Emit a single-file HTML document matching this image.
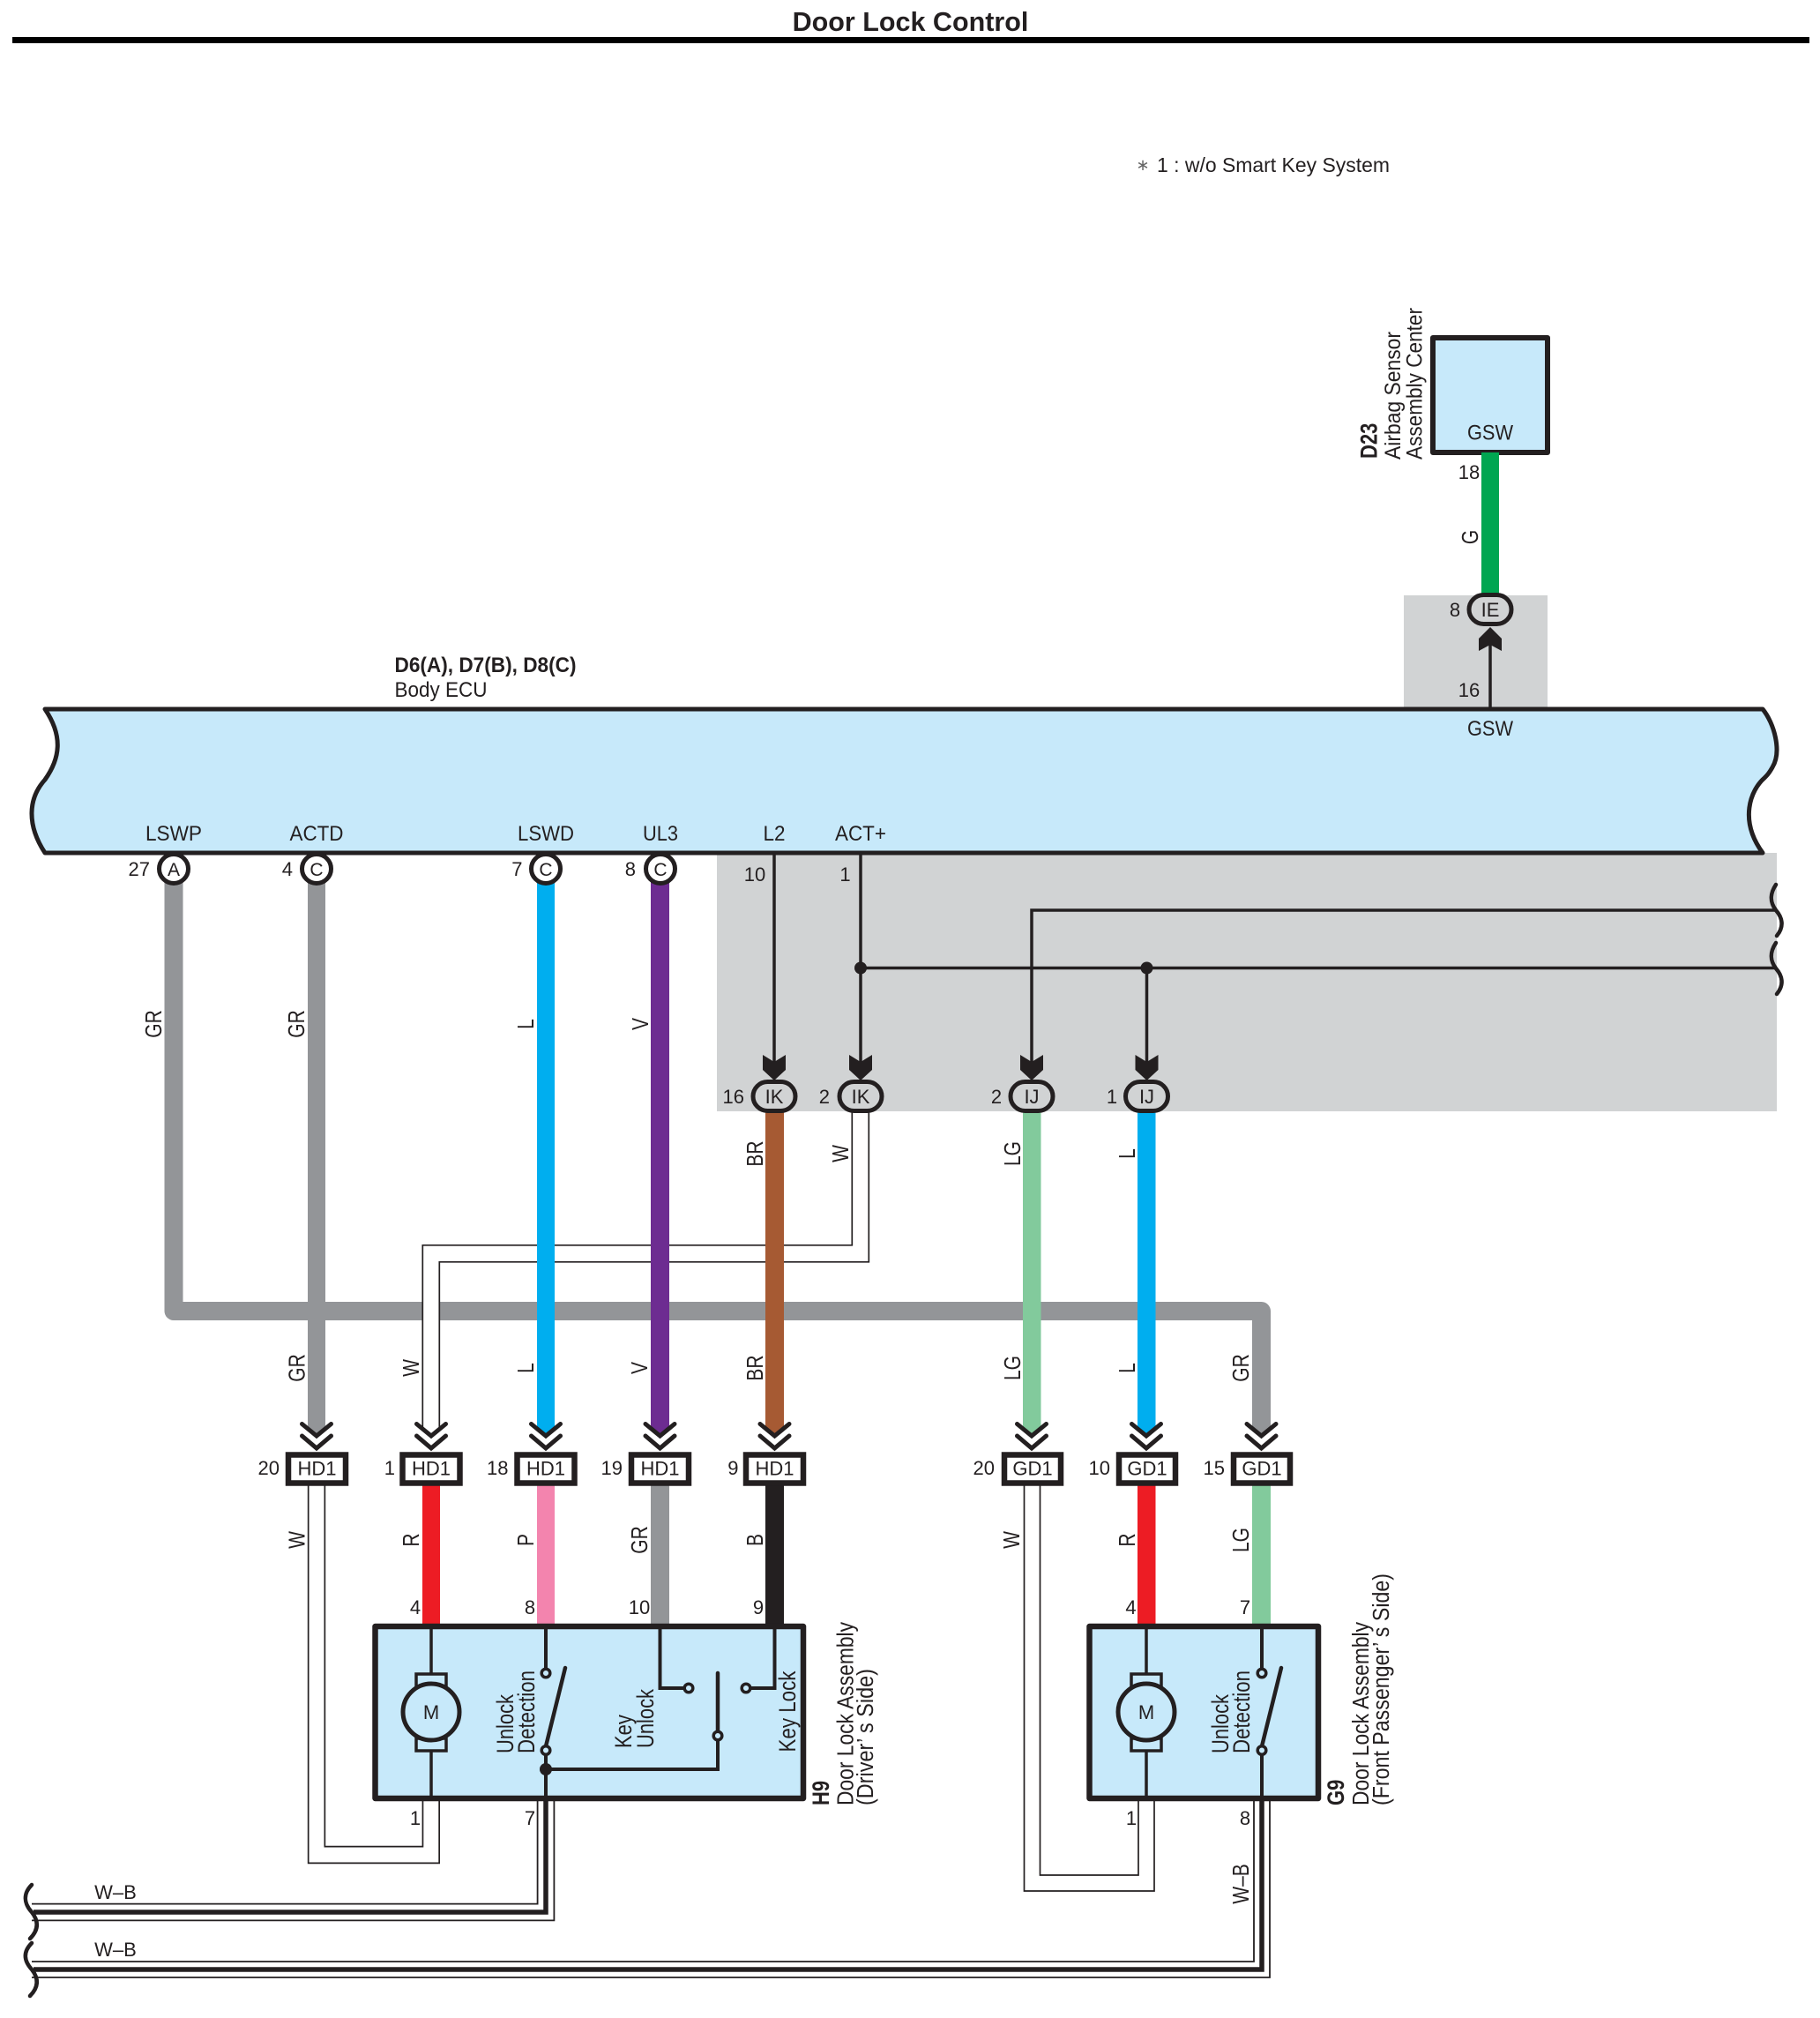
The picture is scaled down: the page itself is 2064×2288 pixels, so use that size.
<!DOCTYPE html>
<html><head><meta charset="utf-8"><title>Door Lock Control</title>
<style>
html,body{margin:0;padding:0;background:#fff}
svg{display:block}
text{font-family:"Liberation Sans",sans-serif;fill:#231f20;font-size:22px}
.m{text-anchor:middle}
.e{text-anchor:end}
.b{font-weight:bold}
.ln{fill:none;stroke:#231f20;stroke-width:3.5}
.th{fill:none;stroke:#231f20;stroke-width:4.5;stroke-linecap:round}
.t{fill:#c7e9fa;stroke:#231f20;stroke-width:3.5}
.box{fill:#fff;stroke:#231f20;stroke-width:6.5}
.pill{fill:#d1d3d4;stroke:#231f20;stroke-width:5}
.c{fill:#fff;stroke:#231f20;stroke-width:5}
.chev{fill:none;stroke:#231f20;stroke-width:5;stroke-linecap:round;stroke-linejoin:miter}
.a{fill:#231f20}
.s{font-size:24px;text-anchor:middle}
.w{font-size:21px;text-anchor:middle}
</style></head><body>
<svg width="2064" height="2288" viewBox="0 0 2064 2288" xmlns="http://www.w3.org/2000/svg">
<rect width="2064" height="2288" fill="#fff"/>
<text x="1032.500" y="35" class="m b" style="font-size:30.5px">Door Lock Control</text>
<rect x="14" y="42" width="2038" height="7" fill="#000"/>
<text x="1296" y="193" class="m" style="font-size:18px;fill:#666">∗</text>
<text x="1312" y="195" textLength="264" lengthAdjust="spacingAndGlyphs" style="font-size:23.5px">1 : w/o Smart Key System</text>

<!-- gray regions -->
<rect x="1592" y="675" width="163" height="130" fill="#d1d3d4"/>
<rect x="813" y="967" width="1202" height="293" fill="#d1d3d4"/>

<!-- Airbag -->
<rect x="1625" y="383" width="130" height="130" fill="#c7e9fa" stroke="#231f20" stroke-width="6" stroke-linejoin="round"/>
<text x="1690" y="498.500" class="s" textLength="52" lengthAdjust="spacingAndGlyphs">GSW</text>
<text transform="translate(1561.7,520) rotate(-90) scale(1,1.2)" class="b">D23</text>
<text transform="translate(1588,521) rotate(-90) scale(1,1.15)" textLength="145" lengthAdjust="spacingAndGlyphs">Airbag Sensor</text>
<text transform="translate(1612.500,521) rotate(-90) scale(1,1.15)" textLength="172" lengthAdjust="spacingAndGlyphs">Assembly Center</text>
<rect x="1680" y="513" width="20" height="170" fill="#00a651"/>
<text x="1666" y="543" class="m">18</text>
<text transform="translate(1676,609) rotate(-90) scale(1,1.25)" class="w">G</text>
<path class="ln" d="M1690 804V725"/>
<path class="a" d="M1690 711L1703 724V738L1690 731L1677 738V724Z"/>
<rect x="1666" y="674.500" width="48" height="33" rx="16.500" class="pill"/>
<text x="1690" y="699" class="m">IE</text>
<text x="1650" y="699" class="m">8</text>
<text x="1666" y="790" class="m">16</text>

<!-- ECU labels -->
<text x="447.500" y="762" class="b" textLength="206" lengthAdjust="spacingAndGlyphs" style="font-size:24px">D6(A), D7(B), D8(C)</text>
<text x="447.500" y="790" textLength="105" lengthAdjust="spacingAndGlyphs" style="font-size:24px">Body ECU</text>

<!-- ECU -->
<path d="M51 804H1999C2012 820 2021 852 2010 870C2006 877 2004 879 2001 882C1985 896 1972 930 1999 967H51C30 935 32 905 51 884C68 860 72 835 51 804Z" fill="#c7e9fa" stroke="#231f20" stroke-width="5" stroke-linejoin="round"/>
<text x="197" y="953" class="s" textLength="64" lengthAdjust="spacingAndGlyphs">LSWP</text>
<text x="359" y="953" class="s" textLength="61" lengthAdjust="spacingAndGlyphs">ACTD</text>
<text x="619" y="953" class="s" textLength="64" lengthAdjust="spacingAndGlyphs">LSWD</text>
<text x="749" y="953" class="s" textLength="40" lengthAdjust="spacingAndGlyphs">UL3</text>
<text x="878" y="953" class="s" textLength="25" lengthAdjust="spacingAndGlyphs">L2</text>
<text x="976" y="953" class="s" textLength="58" lengthAdjust="spacingAndGlyphs">ACT+</text>
<text x="1690" y="834" class="s" textLength="52" lengthAdjust="spacingAndGlyphs">GSW</text>

<!-- gray bus -->
<path d="M197 990V1486.500H1430.500V1617" fill="none" stroke="#939598" stroke-width="21" stroke-linejoin="round"/>
<polygon points="1420,1617 1430.500,1627 1441,1617" fill="#939598"/>

<!-- W double from IK to HD1 -->
<path d="M975.800 1260V1421.300H488.800V1620" fill="none" stroke="#231f20" stroke-width="20.700"/>
<path d="M975.800 1259V1421.300H488.800V1621" fill="none" stroke="#fff" stroke-width="17.300"/>

<!-- upper coloured wires -->
<polygon points="349,990 369,990 369,1617 359,1627 349,1617" fill="#939598"/>
<polygon points="609,990 629,990 629,1617 619,1627 609,1617" fill="#00aeef"/>
<polygon points="738,990 759,990 759,1617 748.500,1627 738,1617" fill="#6d2c91"/>
<polygon points="868,1258 889,1258 889,1617 878.500,1627 868,1617" fill="#a65a33"/>
<polygon points="1160,1258 1180.500,1258 1180.500,1617 1170,1627 1160,1617" fill="#82ca9c"/>
<polygon points="1290,1258 1310.500,1258 1310.500,1617 1300,1627 1290,1617" fill="#00aeef"/>

<!-- ECU pins -->
<circle cx="197" cy="985" r="16.500" class="c"/><text x="197" y="993" class="m" style="font-size:21px">A</text>
<circle cx="359" cy="985" r="16.500" class="c"/><text x="359" y="993" class="m" style="font-size:21px">C</text>
<circle cx="619" cy="985" r="16.500" class="c"/><text x="619" y="993" class="m" style="font-size:21px">C</text>
<circle cx="749" cy="985" r="16.500" class="c"/><text x="749" y="993" class="m" style="font-size:21px">C</text>
<text x="170" y="993" class="e">27</text>
<text x="332" y="993" class="e">4</text>
<text x="592.500" y="993" class="e">7</text>
<text x="721" y="993" class="e">8</text>
<text x="856" y="999" class="m">10</text>
<text x="958.500" y="999" class="m">1</text>

<!-- thin lines in gray region -->
<path class="ln" d="M878 967V1210"/>
<path class="ln" d="M976 967V1210"/>
<path class="ln" d="M976 1097.500H2014"/>
<path class="ln" d="M1170 1210V1032H2014"/>
<path class="ln" d="M1300.500 1097.500V1210"/>
<circle cx="976" cy="1097.500" r="7" class="a"/>
<circle cx="1300.500" cy="1097.500" r="7" class="a"/>
<path class="th" d="M2014 1003C2006 1015 2008 1024 2014 1032C2021 1040 2024 1050 2015 1061"/>
<path class="th" d="M2014 1069C2006 1081 2008 1090 2014 1098C2021 1106 2024 1116 2015 1127"/>

<path class="a" d="M878 1225L891 1213V1196L878 1204L865 1196V1213Z"/>
<path class="a" d="M976 1225L989 1213V1196L976 1204L963 1196V1213Z"/>
<path class="a" d="M1170 1225L1183 1213V1196L1170 1204L1157 1196V1213Z"/>
<path class="a" d="M1300.500 1225L1313.500 1213V1196L1300.500 1204L1287.500 1196V1213Z"/>
<rect x="854" y="1226.500" width="48" height="33" rx="16.500" class="pill"/><text x="878" y="1251" class="m">IK</text>
<rect x="952" y="1226.500" width="48" height="33" rx="16.500" class="pill"/><text x="976" y="1251" class="m">IK</text>
<rect x="1146" y="1226.500" width="48" height="33" rx="16.500" class="pill"/><text x="1170" y="1251" class="m">IJ</text>
<rect x="1276.500" y="1226.500" width="48" height="33" rx="16.500" class="pill"/><text x="1300.500" y="1251" class="m">IJ</text>
<text x="844" y="1251" class="e">16</text>
<text x="941" y="1251" class="e">2</text>
<text x="1130" y="1251" class="m">2</text>
<text x="1261" y="1251" class="m">1</text>

<!-- chevrons -->
<path class="chev" d="M342.500 1614.500L359 1628L375.500 1614.500M342.500 1628L359 1642L375.500 1628"/>
<path class="chev" d="M472.500 1614.500L489 1628L505.500 1614.500M472.500 1628L489 1642L505.500 1628"/>
<path class="chev" d="M602.500 1614.500L619 1628L635.500 1614.500M602.500 1628L619 1642L635.500 1628"/>
<path class="chev" d="M732 1614.500L748.500 1628L765 1614.500M732 1628L748.500 1642L765 1628"/>
<path class="chev" d="M862 1614.500L878.500 1628L895 1614.500M862 1628L878.500 1642L895 1628"/>
<path class="chev" d="M1153.500 1614.500L1170 1628L1186.500 1614.500M1153.500 1628L1170 1642L1186.500 1628"/>
<path class="chev" d="M1283.500 1614.500L1300 1628L1316.500 1614.500M1283.500 1628L1300 1642L1316.500 1628"/>
<path class="chev" d="M1414 1614.500L1430.500 1628L1447 1614.500M1414 1628L1430.500 1642L1447 1628"/>

<!-- lower wires: W double -->
<path d="M359 1680V2103H488.800V2036" fill="none" stroke="#231f20" stroke-width="20.400"/>
<path d="M359 1680V2103H488.800V2036" fill="none" stroke="#fff" stroke-width="17"/>
<path d="M1170.500 1680V2135H1300V2036" fill="none" stroke="#231f20" stroke-width="19.700"/>
<path d="M1170.500 1680V2135H1300V2036" fill="none" stroke="#fff" stroke-width="16.300"/>

<rect x="479" y="1680" width="20" height="165" fill="#ed1c24"/>
<rect x="609" y="1680" width="20" height="165" fill="#f384ae"/>
<rect x="738" y="1680" width="21" height="165" fill="#939598"/>
<rect x="868" y="1680" width="21" height="165" fill="#231f20"/>
<rect x="1290" y="1680" width="20.500" height="165" fill="#ed1c24"/>
<rect x="1420" y="1680" width="21" height="165" fill="#82ca9c"/>

<!-- connector boxes -->
<rect x="327" y="1649.500" width="65" height="32" class="box"/><text x="359.500" y="1672.500" class="m">HD1</text>
<rect x="456.500" y="1649.500" width="65" height="32" class="box"/><text x="489" y="1672.500" class="m">HD1</text>
<rect x="586.500" y="1649.500" width="65" height="32" class="box"/><text x="619" y="1672.500" class="m">HD1</text>
<rect x="716" y="1649.500" width="65" height="32" class="box"/><text x="748.500" y="1672.500" class="m">HD1</text>
<rect x="846" y="1649.500" width="65" height="32" class="box"/><text x="878.500" y="1672.500" class="m">HD1</text>
<rect x="1139" y="1649.500" width="64" height="32" class="box"/><text x="1171" y="1672.500" class="m">GD1</text>
<rect x="1269" y="1649.500" width="64" height="32" class="box"/><text x="1301" y="1672.500" class="m">GD1</text>
<rect x="1399" y="1649.500" width="64" height="32" class="box"/><text x="1431" y="1672.500" class="m">GD1</text>
<text x="317" y="1672" class="e">20</text>
<text x="448" y="1672" class="e">1</text>
<text x="576.500" y="1672" class="e">18</text>
<text x="706" y="1672" class="e">19</text>
<text x="837.500" y="1672" class="e">9</text>
<text x="1128" y="1672" class="e">20</text>
<text x="1259" y="1672" class="e">10</text>
<text x="1389" y="1672" class="e">15</text>

<!-- W-B wires -->
<path d="M36 2168H619V2036" fill="none" stroke="#231f20" stroke-width="20.600"/>
<path d="M30 2168H619V2036" fill="none" stroke="#fff" stroke-width="17"/>
<path d="M36 2233H1431V2036" fill="none" stroke="#231f20" stroke-width="19.800"/>
<path d="M30 2233H1431V2036" fill="none" stroke="#fff" stroke-width="16.200"/>
<path d="M38 2168H619V2036" fill="none" stroke="#231f20" stroke-width="5.500"/>
<path d="M38 2233H1431V2036" fill="none" stroke="#231f20" stroke-width="5.500"/>
<rect x="0" y="2150" width="30" height="100" fill="#fff"/>
<path class="th" d="M36 2137C26 2147 27 2158 36 2168C44 2178 44 2188 34 2198"/>
<path class="th" d="M36 2203C26 2213 27 2223 36 2233C44 2243 44 2253 34 2263"/>
<text x="131" y="2153" class="m">W–B</text>
<text x="131" y="2218" class="m">W–B</text>

<!-- H9 box -->
<rect x="425.500" y="1844" width="485.500" height="195" fill="#c7e9fa" stroke="#231f20" stroke-width="6.500" stroke-linejoin="round"/>
<!-- motor H9 -->
<path class="ln" d="M489 1843V1898M489 1985V2039"/>
<rect x="472" y="1898" width="34" height="14" class="t" stroke-width="4"/>
<rect x="472" y="1971" width="34" height="14" class="t" stroke-width="4"/>
<circle cx="489" cy="1941" r="32" fill="#c7e9fa" stroke="#231f20" stroke-width="5"/>
<text x="489" y="1949" class="m">M</text>
<!-- switches H9 -->
<path class="ln" style="stroke-width:4" d="M619 1843V1892"/>
<circle cx="619" cy="1897" r="4.800" class="t"/>
<path class="th" d="M619 1980L641 1891"/>
<circle cx="619" cy="1984.500" r="4.800" class="t"/>
<path class="ln" style="stroke-width:4" d="M619 1990V2040"/>
<circle cx="619" cy="2006" r="7" class="a"/>
<path class="ln" style="stroke-width:4" d="M619 2006H814V1973"/>
<path class="th" d="M814 1963V1897"/>
<circle cx="814" cy="1968" r="4.800" class="t"/>
<path class="ln" style="stroke-width:4" d="M748.500 1843V1914H776"/>
<circle cx="781" cy="1914" r="4.800" class="t"/>
<path class="ln" style="stroke-width:4" d="M878.500 1843V1914H851"/>
<circle cx="846" cy="1914" r="4.800" class="t"/>

<text transform="translate(582,1988) rotate(-90) scale(1,1.2)" textLength="67" lengthAdjust="spacingAndGlyphs">Unlock</text>
<text transform="translate(606,1988) rotate(-90) scale(1,1.2)" textLength="94" lengthAdjust="spacingAndGlyphs">Detection</text>
<text transform="translate(716,1982) rotate(-90) scale(1,1.2)">Key</text>
<text transform="translate(741,1982) rotate(-90) scale(1,1.2)" textLength="67" lengthAdjust="spacingAndGlyphs">Unlock</text>
<text transform="translate(902,1986.500) rotate(-90) scale(1,1.2)" textLength="92" lengthAdjust="spacingAndGlyphs">Key Lock</text>
<text transform="translate(940,2047) rotate(-90) scale(1,1.2)" class="b">H9</text>
<text transform="translate(967.500,2047) rotate(-90) scale(1,1.17)" textLength="208" lengthAdjust="spacingAndGlyphs">Door Lock Assembly</text>
<text transform="translate(990,2047) rotate(-90) scale(1,1.17)" textLength="155" lengthAdjust="spacingAndGlyphs">(Driver’ s Side)</text>

<!-- G9 box -->
<rect x="1235.500" y="1844" width="259.500" height="195" fill="#c7e9fa" stroke="#231f20" stroke-width="6.500" stroke-linejoin="round"/>
<path class="ln" d="M1300 1843V1898M1300 1985V2039"/>
<rect x="1283" y="1898" width="34" height="14" class="t" stroke-width="4"/>
<rect x="1283" y="1971" width="34" height="14" class="t" stroke-width="4"/>
<circle cx="1300" cy="1941" r="32" fill="#c7e9fa" stroke="#231f20" stroke-width="5"/>
<text x="1300" y="1949" class="m">M</text>
<path class="ln" style="stroke-width:4" d="M1431 1843V1892"/>
<circle cx="1431" cy="1897" r="4.800" class="t"/>
<path class="th" d="M1431 1980L1453 1891"/>
<circle cx="1431" cy="1984.500" r="4.800" class="t"/>
<path class="ln" style="stroke-width:4" d="M1431 1990V2040"/>
<text transform="translate(1393,1988) rotate(-90) scale(1,1.2)" textLength="67" lengthAdjust="spacingAndGlyphs">Unlock</text>
<text transform="translate(1417,1988) rotate(-90) scale(1,1.2)" textLength="94" lengthAdjust="spacingAndGlyphs">Detection</text>
<text transform="translate(1524,2047) rotate(-90) scale(1,1.2)" class="b">G9</text>
<text transform="translate(1552,2047) rotate(-90) scale(1,1.17)" textLength="208" lengthAdjust="spacingAndGlyphs">Door Lock Assembly</text>
<text transform="translate(1575,2047) rotate(-90) scale(1,1.17)" textLength="263" lengthAdjust="spacingAndGlyphs">(Front Passenger’ s Side)</text>

<!-- pin numbers at assemblies -->
<text x="471" y="1830" class="m">4</text>
<text x="601" y="1830" class="m">8</text>
<text x="725" y="1830" class="m">10</text>
<text x="860" y="1830" class="m">9</text>
<text x="1282.500" y="1830" class="m">4</text>
<text x="1412" y="1830" class="m">7</text>
<text x="471" y="2069" class="m">1</text>
<text x="601" y="2069" class="m">7</text>
<text x="1283" y="2069" class="m">1</text>
<text x="1412" y="2069" class="m">8</text>

<!-- wire colour labels (rotated) -->
<text transform="translate(183,1161) rotate(-90) scale(1,1.25)" class="w">GR</text>
<text transform="translate(345,1161) rotate(-90) scale(1,1.25)" class="w">GR</text>
<text transform="translate(605,1161) rotate(-90) scale(1,1.25)" class="w">L</text>
<text transform="translate(735,1161) rotate(-90) scale(1,1.25)" class="w">V</text>
<text transform="translate(865,1308) rotate(-90) scale(1,1.25)" class="w">BR</text>
<text transform="translate(962,1308) rotate(-90) scale(1,1.25)" class="w">W</text>
<text transform="translate(1157,1308) rotate(-90) scale(1,1.25)" class="w">LG</text>
<text transform="translate(1287,1308) rotate(-90) scale(1,1.25)" class="w">L</text>
<text transform="translate(345.500,1551) rotate(-90) scale(1,1.25)" class="w">GR</text>
<text transform="translate(475,1551) rotate(-90) scale(1,1.25)" class="w">W</text>
<text transform="translate(605,1551) rotate(-90) scale(1,1.25)" class="w">L</text>
<text transform="translate(734,1551) rotate(-90) scale(1,1.25)" class="w">V</text>
<text transform="translate(865,1551) rotate(-90) scale(1,1.25)" class="w">BR</text>
<text transform="translate(1157,1551) rotate(-90) scale(1,1.25)" class="w">LG</text>
<text transform="translate(1287,1551) rotate(-90) scale(1,1.25)" class="w">L</text>
<text transform="translate(1416,1551) rotate(-90) scale(1,1.25)" class="w">GR</text>
<text transform="translate(345.500,1746) rotate(-90) scale(1,1.25)" class="w">W</text>
<text transform="translate(475,1746) rotate(-90) scale(1,1.25)" class="w">R</text>
<text transform="translate(605,1746) rotate(-90) scale(1,1.25)" class="w">P</text>
<text transform="translate(734,1746) rotate(-90) scale(1,1.25)" class="w">GR</text>
<text transform="translate(865,1746) rotate(-90) scale(1,1.25)" class="w">B</text>
<text transform="translate(1156,1746) rotate(-90) scale(1,1.25)" class="w">W</text>
<text transform="translate(1287,1746) rotate(-90) scale(1,1.25)" class="w">R</text>
<text transform="translate(1416,1746) rotate(-90) scale(1,1.25)" class="w">LG</text>
<text transform="translate(1416,2136) rotate(-90) scale(1,1.25)" class="w">W–B</text>
</svg>
</body></html>
